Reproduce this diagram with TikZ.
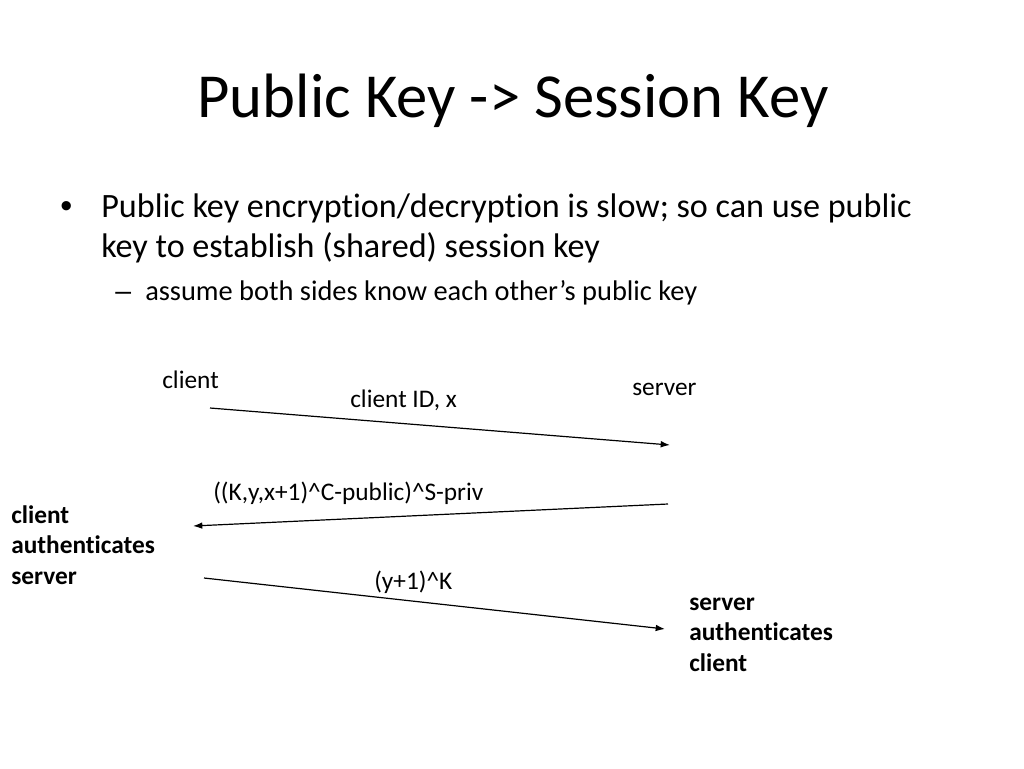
\documentclass[tikz,border=0pt]{standalone}
\usepackage{fontspec}
\setmainfont{Carlito}[Ligatures=NoCommon]
\newfontfamily\arialf{Liberation Sans}
\usetikzlibrary{arrows.meta}
\begin{document}
\begin{tikzpicture}[x=0.75pt,y=-0.75pt,
  txt/.style={anchor=base west,inner sep=0pt,font=\fontsize{19}{23}\selectfont},
  btxt/.style={anchor=base west,inner sep=0pt,align=left,font=\fontsize{19}{23}\bfseries\selectfont},
  msg/.style={line width=0.9pt,-{Latex[length=7pt,width=5pt]}}]
\useasboundingbox (0,0) rectangle (1024,768);
\node[anchor=base,inner sep=0pt,font=\fontsize{47}{56}\selectfont] (title) at (513,117) {Public Key -> Session Key};
\node[anchor=base west,inner sep=0pt,font=\arialf\fontsize{25.6}{31}\selectfont] (b1) at (60,217) {•};
\node[anchor=base west,inner sep=0pt,font=\fontsize{25.6}{31}\selectfont] (t1) at (101,217) {Public key encryption/decryption is slow; so can use public};
\node[anchor=base west,inner sep=0pt,font=\fontsize{25.6}{31}\selectfont] (t2) at (101,257) {key to establish (shared) session key};
\node[anchor=base west,inner sep=0pt,font=\arialf\fontsize{21.3}{26}\selectfont] (d1) at (115,300) {–};
\node[anchor=base west,inner sep=0pt,font=\fontsize{21.3}{26}\selectfont] (t3) at (145,300) {assume both sides know each other’s public key};
\node[txt] (client) at (162,388) {client};
\node[txt] (server) at (632,395) {server};
\node[txt] (m1) at (350,407) {client ID, x};
\node[txt] (m2) at (213,500) {((K,y,x+1)\^{}C-public)\^{}S-priv};
\node[txt] (m3) at (374,589) {(y+1)\^{}K};
\node[btxt] (cas) at (11,523) {client};
\node[btxt] (cas2) at (11,553) {authenticates};
\node[btxt] (cas3) at (11,584) {server};
\node[btxt] (sac) at (689,610) {server};
\node[btxt] (sac2) at (689,640) {authenticates};
\node[btxt] (sac3) at (689,671) {client};
\coordinate (a1s) at (210,408);
\coordinate (a1e) at (670,445);
\coordinate (a2s) at (668,504);
\coordinate (a2e) at (193,526);
\coordinate (a3s) at (204,578);
\coordinate (a3e) at (665,629);
\draw[msg] (a1s) -- (a1e);
\draw[msg] (a2s) -- (a2e);
\draw[msg] (a3s) -- (a3e);
\end{tikzpicture}
\end{document}
